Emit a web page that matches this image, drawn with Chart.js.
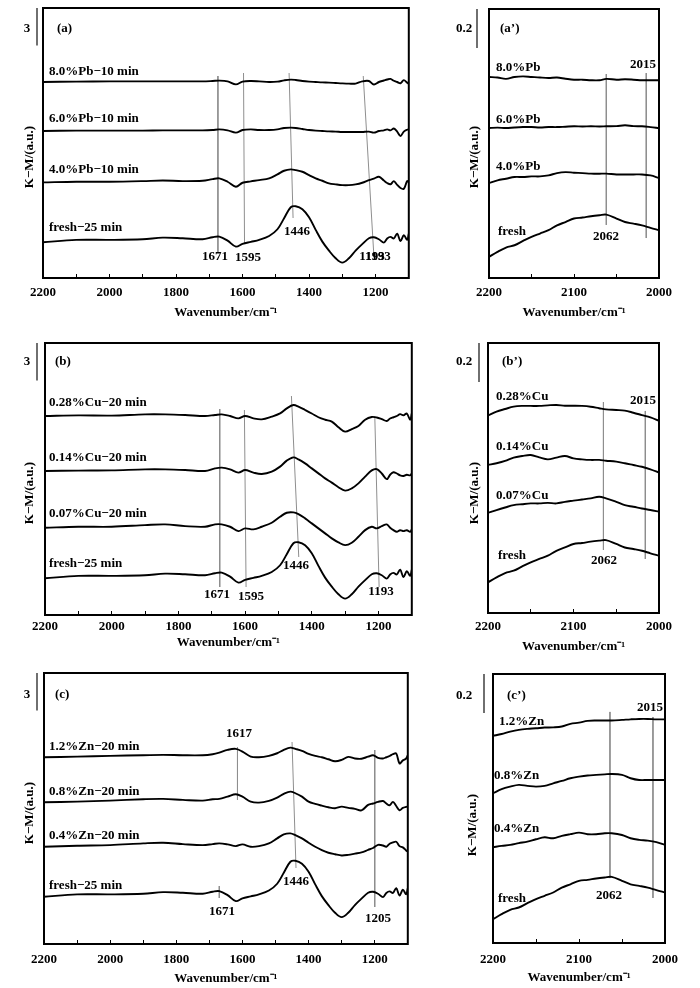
<!DOCTYPE html>
<html>
<head>
<meta charset="utf-8">
<script src="https://cdn.jsdelivr.net/npm/chart.js@4.4.1/dist/chart.umd.min.js"></script>
<style>
  body { margin: 0; background: #fff; }
  #fig { position: relative; width: 700px; height: 988px; }
  #fig canvas { position: absolute; }
</style>
</head>
<body>
<div id="fig"></div>
<script>
// wavenumber grids (cm-1)
const WN_LEFT = [2200, 2100, 2000, 1900, 1840, 1780, 1720, 1690, 1670, 1645, 1620, 1600, 1575, 1550, 1520,
  1495, 1475, 1455, 1440, 1420, 1400, 1380, 1360, 1340, 1320, 1300, 1280, 1260, 1240, 1220, 1205,
  1190, 1175, 1165, 1155, 1145, 1135, 1125, 1115, 1105, 1100];
const WN_RIGHT = [2200, 2190, 2180, 2170, 2160, 2150, 2140, 2130, 2120, 2110, 2100, 2090, 2080, 2070, 2062,
  2050, 2040, 2030, 2020, 2010, 2000];

// K-M spectra, 2200-1100 region (relative to each curve's left end)
const FRESH_MID = [0, 0.19, 0.19, 0.24, 0.37, 0.32, 0.24, 0.40, 0.45, 0.13, -0.35, -0.13, 0.03, 0.19, 0.5,
  1.04, 1.92, 2.8, 2.88, 2.64, 2.0, 0.99, 0.05, -0.67, -1.28, -1.63, -1.28, -0.67, -0.15, 0.32, 0.40,
  0.24, -0.03, 0.3, 0.43, 0.3, 0.69, 0.1, 0.56, 0.2, 0.69];
const PB80_MID = [0, 0.03, 0.05, 0.05, 0.05, 0.05, 0.05, 0.08, 0.11, 0.05, -0.19, 0.03, 0.08, 0.05, 0.0,
  0.03, 0.13, 0.19, 0.16, 0.08, 0.03, 0.0, -0.03, -0.05, -0.08, -0.11, -0.13, -0.13, 0.05, 0.08, -0.2,
  0.0, 0.12, 0.2, 0.25, 0.1, 0.0, -0.1, 0.15, -0.05, -0.15];
const PB60_MID = [0, 0.03, 0.03, 0.03, 0.05, 0.05, 0.05, 0.08, 0.13, 0.05, -0.13, 0.08, 0.13, 0.08, 0.08,
  0.13, 0.24, 0.27, 0.24, 0.16, 0.08, 0.03, 0.0, -0.03, -0.05, -0.08, -0.08, -0.08, -0.08, -0.05, -0.13,
  0.0, 0.05, 0.13, 0.05, 0.2, -0.05, -0.4, -0.05, 0.1, 0.13];
const PB40_MID = [-0.05, 0, 0, 0.05, 0.1, 0.05, 0.08, 0.21, 0.27, 0, -0.4, -0.08, 0.03, 0.13, 0.27,
  0.59, 0.88, 0.99, 0.93, 0.8, 0.53, 0.27, 0.08, -0.13, -0.21, -0.27, -0.27, -0.21, -0.08, 0.13, 0.25,
  0.4, 0.1, -0.1, -0.2, 0.05, -0.25, -0.5, -0.56, 0.05, 0.0];
const CU28_MID = [0, 0.05, 0.03, 0.13, 0.13, 0.08, 0, 0.08, 0.13, 0, -0.19, 0, -0.19, -0.27, -0.05,
  0.21, 0.61, 0.88, 0.75, 0.48, 0.2, -0.1, -0.3, -0.45, -0.9, -1.25, -1.05, -0.8, -0.3, -0.08, -0.12,
  -0.25, -0.4, -0.2, -0.1, 0.0, 0.15, 0.05, 0.2, -0.3, 0.2];
const CU14_MID = [0, 0.03, 0.05, 0.13, 0.13, 0.08, 0, 0.21, 0.27, 0.13, -0.13, 0.08, -0.13, -0.24, -0.05,
  0.35, 0.83, 1.09, 0.93, 0.61, 0.21, -0.19, -0.59, -0.93, -1.3, -1.57, -1.39, -0.99, -0.45, 0.05, 0.15,
  -0.2, -0.65, -0.3, -0.1, -0.2, -0.35, -0.4, -0.3, -0.35, -0.2];
const CU07_MID = [0, 0.08, 0.08, 0.21, 0.27, 0.13, 0.08, 0.27, 0.27, 0.08, -0.27, -0.05, -0.13, 0.08, 0.4,
  0.88, 1.2, 1.23, 1.09, 0.75, 0.35, -0.05, -0.45, -0.85, -1.17, -1.39, -1.2, -0.72, -0.19, 0.08, -0.05,
  0.13, 0.27, 0.0, -0.19, -0.32, -0.2, -0.27, -0.2, -0.32, -0.13];
const ZN12_MID = [0, 0.05, 0.11, 0.16, 0.19, 0.16, 0.16, 0.24, 0.37, 0.59, 0.67, 0.45, 0.05, 0, 0.11,
  0.32, 0.59, 0.77, 0.67, 0.51, 0.27, 0.11, 0, -0.16, -0.32, -0.21, 0.03, -0.1, -0.12, 0.05, 0.16,
  -0.05, -0.1, 0.0, 0.1, 0.25, 0.3, -0.5, -0.25, -0.1, 0.16];
const ZN08_MID = [0, 0.05, 0.13, 0.24, 0.27, 0.19, 0.13, 0.24, 0.27, 0.45, 0.64, 0.45, 0.05, -0.03, 0.11,
  0.37, 0.67, 0.85, 0.72, 0.45, 0.05, -0.13, -0.27, -0.4, -0.48, -0.35, -0.45, -0.53, -0.65, -0.21, -0.1,
  0.03, 0.1, -0.1, -0.24, 0.03, -0.3, -0.64, -0.45, -0.37, -0.35];
const ZN04_MID = [0, 0.08, 0.13, 0.27, 0.32, 0.21, 0.13, 0.21, 0.27, 0.19, 0.05, 0.19, 0, 0.05, 0.27,
  0.67, 0.99, 1.07, 0.93, 0.67, 0.32, 0, -0.27, -0.48, -0.6, -0.7, -0.65, -0.55, -0.45, -0.25, -0.1,
  0.15, 0.1, 0.0, 0.24, 0.35, 0.4, 0.05, -0.05, -0.3, -0.4];

// K-M spectra, 2200-2000 region
const FRESH_HIGH = [0, 0.026, 0.048, 0.06, 0.082, 0.103, 0.12, 0.137, 0.162, 0.179, 0.197, 0.202, 0.209, 0.214, 0.217,
  0.197, 0.179, 0.171, 0.162, 0.149, 0.137];
const PB80_HIGH = [0, -0.003, -0.01, 0, 0.003, 0, -0.003, -0.005, -0.003, -0.009, -0.014, -0.014, -0.017, -0.017, -0.01,
  -0.014, -0.012, -0.014, -0.017, -0.017, -0.017];
const PB60_HIGH = [0, 0.002, 0, 0.003, 0.005, 0.005, 0.003, 0.005, 0.005, 0.007, 0.009, 0.008, 0.009, 0.008, 0.009,
  0.01, 0.014, 0.01, 0.009, 0.005, 0];
const PB40_HIGH = [0, 0.014, 0.022, 0.031, 0.031, 0.034, 0.034, 0.039, 0.051, 0.056, 0.053, 0.051, 0.048, 0.048, 0.048,
  0.044, 0.044, 0.044, 0.044, 0.039, 0.026];
const CU28_HIGH = [0, 0.021, 0.034, 0.046, 0.05, 0.05, 0.05, 0.053, 0.055, 0.051, 0.051, 0.05, 0.046, 0.038, 0.032,
  0.029, 0.026, 0.015, 0.003, -0.009, -0.026];
const CU14_HIGH = [0, 0.009, 0.021, 0.038, 0.046, 0.051, 0.039, 0.029, 0.038, 0.046, 0.034, 0.029, 0.026, 0.026, 0.022,
  0.017, 0.009, 0, -0.009, -0.022, -0.039];
const CU07_HIGH = [0, 0.014, 0.027, 0.039, 0.044, 0.048, 0.048, 0.051, 0.048, 0.056, 0.062, 0.068, 0.074, 0.082, 0.074,
  0.056, 0.039, 0.031, 0.022, 0.014, 0.005];
const ZN12_HIGH = [0, 0.01, 0.022, 0.031, 0.036, 0.039, 0.043, 0.044, 0.048, 0.062, 0.068, 0.077, 0.079, 0.079, 0.079,
  0.082, 0.085, 0.087, 0.087, 0.085, 0.085];
const ZN08_HIGH = [0, 0.021, 0.034, 0.043, 0.038, 0.034, 0.038, 0.051, 0.063, 0.077, 0.085, 0.091, 0.094, 0.097, 0.099,
  0.094, 0.077, 0.068, 0.068, 0.068, 0.068];
const ZN04_HIGH = [0, 0.007, 0.012, 0.021, 0.029, 0.041, 0.051, 0.046, 0.058, 0.067, 0.075, 0.067, 0.067, 0.072, 0.072,
  0.063, 0.046, 0.038, 0.034, 0.026, 0.012];

// stacking offsets (top curve first)
const OFF_A = [15.68, 11.76, 7.7, 2.86];
const OFF_A2 = [1.031, 0.769, 0.487, 0.108];
const OFF_B = [15.92, 11.52, 6.98, 2.94];
const OFF_B2 = [1.012, 0.759, 0.514, 0.157];
const OFF_C = [14.94, 11.34, 7.78, 3.78];
const OFF_C2 = [1.062, 0.768, 0.491, 0.122];

// peak guide lines [wn top, y top, wn bottom, y bottom]
const GUIDES_A = [[1674, 16.16, 1674, 2.0], [1597, 16.4, 1594, 2.72], [1460, 16.4, 1448, 4.8], [1237, 16.16, 1205, 1.76]];
const GUIDES_A2 = [[2062, 1.046, 2062, 0.272], [2015, 1.051, 2015, 0.205]];
const GUIDES_B = [[1676, 16.48, 1676, 2.24], [1602, 16.4, 1597, 2.24], [1461, 17.52, 1439, 4.64], [1211, 15.92, 1198, 2.24]];
const GUIDES_B2 = [[2065, 1.082, 2065, 0.323], [2016, 1.036, 2016, 0.277]];
const GUIDES_C = [[1615, 15.76, 1615, 11.52], [1450, 16.16, 1438, 6.08], [1670, 4.64, 1670, 3.68], [1200, 15.52, 1200, 2.96]];
const GUIDES_C2 = [[2064, 1.185, 2064, 0.333], [2014, 1.159, 2014, 0.231]];

const FONT = '"Liberation Serif", "Times New Roman", serif';
const YTITLE = 'K\u2212M/(a.u.)';

function spectrum(wn, shape, off) {
    return {
        data: wn.map((x, i) => ({ x: x, y: shape[i] + off })),
        borderColor: '#000', borderWidth: 1.9, tension: 0.35,
        pointRadius: 0, fill: false, order: 1
    };
}

function guide(g) {
    return {
        data: [{ x: g[0], y: g[1] }, { x: g[2], y: g[3] }],
        borderColor: '#8e8e8e', borderWidth: 1, tension: 0,
        pointRadius: 0, fill: false, order: 2
    };
}

// box, scale bar and text labels
const overlay = {
    id: 'overlay',
    afterDraw(chart) {
        const p = chart.options.plugins.overlay;
        const ctx = chart.ctx;
        const a = chart.chartArea;
        ctx.save();
        ctx.strokeStyle = '#000';
        ctx.lineWidth = 2;
        ctx.strokeRect(a.left, a.top, a.right - a.left, a.bottom - a.top);

        const yS = chart.scales.y;
        const barLen = yS.getPixelForValue(yS.max - p.bar.units) - yS.getPixelForValue(yS.max);
        ctx.strokeStyle = '#333';
        ctx.lineWidth = 1.4;
        ctx.beginPath();
        ctx.moveTo(p.bar.x - p.cx, a.top);
        ctx.lineTo(p.bar.x - p.cx, a.top + barLen);
        ctx.stroke();

        ctx.fillStyle = '#000';
        ctx.textBaseline = 'middle';
        ctx.font = 'bold 13px ' + FONT;
        p.texts.forEach(t => {
            ctx.textAlign = t[3] || 'left';
            ctx.fillText(t[0], t[1] - p.cx, t[2] - p.cy);
        });
        ctx.translate(p.ytitle[0] - p.cx, p.ytitle[1] - p.cy);
        ctx.rotate(-Math.PI / 2);
        ctx.textAlign = 'center';
        ctx.fillText(YTITLE, 0, 0);
        ctx.restore();
    }
};

function makePanel(cfg) {
    const c = cfg.canvas, b = cfg.box;
    const el = document.createElement('canvas');
    el.width = c.w; el.height = c.h;
    el.style.left = c.x + 'px'; el.style.top = c.y + 'px';
    el.style.width = c.w + 'px'; el.style.height = c.h + 'px';
    document.getElementById('fig').appendChild(el);

    const datasets = cfg.guides.map(guide)
        .concat(cfg.series.map((s, i) => spectrum(cfg.wn, s, cfg.offsets[i])));

    new Chart(el, {
        type: 'line',
        data: { datasets: datasets },
        options: {
            responsive: false,
            animation: false,
            layout: { padding: { left: b.l - c.x, top: b.t - c.y, right: c.x + c.w - b.r, bottom: 0 } },
            plugins: {
                legend: { display: false },
                tooltip: { enabled: false },
                overlay: { cx: c.x, cy: c.y, texts: cfg.texts, ytitle: cfg.ytitle, bar: cfg.bar }
            },
            scales: {
                x: {
                    type: 'linear', reverse: true, min: cfg.xmin, max: 2200,
                    afterFit: s => { s.height = c.y + c.h - b.b; },
                    border: { display: false },
                    grid: { drawOnChartArea: false, drawTicks: true, tickLength: -4, color: '#000', lineWidth: 1 },
                    ticks: {
                        stepSize: cfg.step, autoSkip: false, maxRotation: 0,
                        padding: cfg.tickY - b.b + 4 - 7.8,
                        color: '#000', font: { family: FONT, size: 13, weight: 'bold' },
                        callback: v => (v % cfg.labelStep === 0 ? v : '')
                    },
                    title: {
                        display: true, text: 'Wavenumber/cm\u207B\u00B9', color: '#000',
                        font: { family: FONT, size: 13, weight: 'bold' },
                        padding: { top: 0, bottom: c.y + c.h - cfg.titleY - 7.8 }
                    }
                },
                y: { display: false, min: 0, max: (b.b - b.t) / cfg.pxPerUnit }
            }
        },
        plugins: [overlay]
    });
}

const LEFT = { wn: WN_LEFT, xmin: 1100, step: 100, labelStep: 200, pxPerUnit: 12.5 };
const RIGHT = { wn: WN_RIGHT, xmin: 2000, step: 50, labelStep: 100, pxPerUnit: 195 };

makePanel(Object.assign({}, LEFT, {
    canvas: { x: 0, y: 0, w: 420, h: 325 }, box: { l: 43, t: 8, r: 412, b: 278 },
    tickY: 293, titleY: 313, bar: { x: 37, units: 3 }, ytitle: [30, 157],
    series: [PB80_MID, PB60_MID, PB40_MID, FRESH_MID], offsets: OFF_A, guides: GUIDES_A,
    texts: [['3', 27, 29, 'center'], ['(a)', 57, 29],
        ['8.0%Pb\u221210 min', 49, 72], ['6.0%Pb\u221210 min', 49, 119],
        ['4.0%Pb\u221210 min', 49, 170], ['fresh\u221225 min', 49, 228],
        ['1671', 215, 257, 'center'], ['1595', 248, 258, 'center'], ['1446', 297, 232, 'center'],
        ['1193', 372, 257, 'center'], ['1193', 378, 257, 'center']]
}));

makePanel(Object.assign({}, RIGHT, {
    canvas: { x: 420, y: 0, w: 280, h: 325 }, box: { l: 489, t: 9, r: 659, b: 278 },
    tickY: 293, titleY: 313, bar: { x: 477, units: 0.2 }, ytitle: [475, 157],
    series: [PB80_HIGH, PB60_HIGH, PB40_HIGH, FRESH_HIGH], offsets: OFF_A2, guides: GUIDES_A2,
    texts: [['0.2', 464, 29, 'center'], ['(a\u2019)', 500, 29],
        ['8.0%Pb', 496, 68], ['6.0%Pb', 496, 120], ['4.0%Pb', 496, 167], ['fresh', 498, 232],
        ['2015', 643, 65, 'center'], ['2062', 606, 237, 'center']]
}));

makePanel(Object.assign({}, LEFT, {
    canvas: { x: 0, y: 325, w: 420, h: 330 }, box: { l: 45, t: 343, r: 413, b: 615 },
    tickY: 627, titleY: 643, bar: { x: 37, units: 3 }, ytitle: [30, 493],
    series: [CU28_MID, CU14_MID, CU07_MID, FRESH_MID], offsets: OFF_B, guides: GUIDES_B,
    texts: [['3', 27, 362, 'center'], ['(b)', 55, 362],
        ['0.28%Cu\u221220 min', 49, 403], ['0.14%Cu\u221220 min', 49, 458],
        ['0.07%Cu\u221220 min', 49, 514], ['fresh\u221225 min', 49, 564],
        ['1671', 217, 595, 'center'], ['1595', 251, 597, 'center'], ['1446', 296, 566, 'center'],
        ['1193', 381, 592, 'center']]
}));

makePanel(Object.assign({}, RIGHT, {
    canvas: { x: 420, y: 325, w: 280, h: 330 }, box: { l: 488, t: 343, r: 659, b: 613 },
    tickY: 627, titleY: 647, bar: { x: 479, units: 0.2 }, ytitle: [475, 493],
    series: [CU28_HIGH, CU14_HIGH, CU07_HIGH, FRESH_HIGH], offsets: OFF_B2, guides: GUIDES_B2,
    texts: [['0.2', 464, 362, 'center'], ['(b\u2019)', 502, 362],
        ['0.28%Cu', 496, 397], ['0.14%Cu', 496, 447], ['0.07%Cu', 496, 496], ['fresh', 498, 556],
        ['2015', 643, 401, 'center'], ['2062', 604, 561, 'center']]
}));

makePanel(Object.assign({}, LEFT, {
    canvas: { x: 0, y: 655, w: 420, h: 333 }, box: { l: 44, t: 673, r: 413, b: 944 },
    tickY: 960, titleY: 979, bar: { x: 37, units: 3 }, ytitle: [30, 813],
    series: [ZN12_MID, ZN08_MID, ZN04_MID, FRESH_MID], offsets: OFF_C, guides: GUIDES_C,
    texts: [['3', 27, 695, 'center'], ['(c)', 55, 695],
        ['1.2%Zn\u221220 min', 49, 747], ['0.8%Zn\u221220 min', 49, 792],
        ['0.4%Zn\u221220 min', 49, 836], ['fresh\u221225 min', 49, 886],
        ['1617', 239, 734, 'center'], ['1446', 296, 882, 'center'], ['1671', 222, 912, 'center'],
        ['1205', 378, 919, 'center']]
}));

makePanel(Object.assign({}, RIGHT, {
    canvas: { x: 420, y: 655, w: 280, h: 333 }, box: { l: 493, t: 674, r: 665, b: 943 },
    tickY: 960, titleY: 978, bar: { x: 484, units: 0.2 }, ytitle: [473, 825],
    series: [ZN12_HIGH, ZN08_HIGH, ZN04_HIGH, FRESH_HIGH], offsets: OFF_C2, guides: GUIDES_C2,
    texts: [['0.2', 464, 696, 'center'], ['(c\u2019)', 507, 696],
        ['1.2%Zn', 499, 722], ['0.8%Zn', 494, 776], ['0.4%Zn', 494, 829], ['fresh', 498, 899],
        ['2015', 650, 708, 'center'], ['2062', 609, 896, 'center']]
}));
</script>
</body>
</html>
